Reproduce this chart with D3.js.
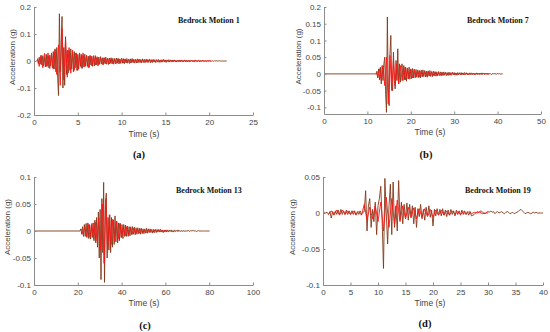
<!DOCTYPE html>
<html>
<head>
<meta charset="utf-8">
<script src="https://cdn.jsdelivr.net/npm/d3@7"></script>
<style>
  body { margin: 0; background: #fff; }
  .tick text { font-family: "Liberation Sans", Arial, sans-serif; font-size: 8px; fill: #444; }
  .domain, .tick line { stroke: #8c8c8c; }
</style>
</head>
<body>
<div id="chart"></div>
<script>
const m1Start = 0.3, m1Dt = 0.1;
const m1Brown = [
  0, 0.006, -0.01, 0.014, -0.012, 0.018, -0.015,
  0.02, -0.018, 0.015, -0.022, 0.025, -0.02, 0.018, -0.025, 0.022, -0.018,
  0.03, -0.025, 0.035, -0.03, 0.045,
  -0.04, 0.05, -0.06, -0.128, 0.175, -0.04, 0.06, 0.165, -0.1, 0.05,
  -0.09, 0.09, -0.05, 0.04, -0.045,
  0.04, -0.035, 0.045, -0.03, 0.03, -0.04, 0.035, -0.025, 0.03, -0.035,
  0.025, -0.03, 0.03, -0.02, 0.025, -0.028, 0.02, -0.022, 0.025, -0.018,
  0.022, -0.02, 0.018, -0.024, 0.02, -0.015, 0.018, -0.02, 0.015, -0.018,
  0.02, -0.015, 0.012, -0.018, 0.015, -0.012, 0.016, -0.01, 0.012, -0.014,
  0.012, -0.01, 0.014, -0.012, 0.01, -0.013, 0.011, -0.009, 0.012, -0.01,
  0.01, -0.012, 0.009, -0.01, 0.011, -0.008, 0.01, -0.011, 0.008, -0.009,
  0.01, -0.008, 0.009, -0.01, 0.008, -0.007, 0.009, -0.008, 0.007, -0.009,
  0.008, -0.007, 0.009, -0.006, 0.007, -0.008, 0.006, -0.007, 0.008, -0.006,
  0.007, -0.006, 0.006, -0.007, 0.008, -0.005, 0.006, -0.006, 0.007, -0.005,
  0.006, -0.005, 0.007, -0.006, 0.005, -0.006, 0.006, -0.004, 0.005, -0.006,
  0.005, -0.004, 0.006, -0.005, 0.004, -0.005, 0.005, -0.004, 0.006, -0.004,
  0.004, -0.005, 0.004, -0.003, 0.005, -0.004, 0.003, -0.004, 0.004, -0.003,
  0.004, -0.003, 0.003, -0.004, 0.003, -0.003, 0.004, -0.003, 0.003, -0.003,
  0.003, -0.003, 0.004, -0.002, 0.003, -0.003, 0.002, -0.003, 0.003, -0.002,
  0.003, -0.002, 0.002, -0.003, 0.003, -0.002, 0.002, -0.002, 0.003, -0.002,
  0.002, -0.002, 0.002, -0.001, 0.002, -0.002, 0.001, -0.002, 0.001, -0.001,
  0.002, -0.001, 0.001, -0.001, 0.001, -0.001, 0.001, 0, 0.001, -0.001,
  0.001, 0, 0.001, 0, 0, 0, 0, 0, 0, 0, 0
];
const m1RedStart = 0.4, m1RedDt = 0.2;
const m1Red = [
  0.01, -0.02, 0.022, -0.025, 0.028, -0.02, 0.03, -0.028, 0.025, -0.03,
  0.04, -0.05, 0.06, -0.09, 0.12, -0.07, 0.08, -0.06, 0.05, -0.045,
  0.04, -0.035, 0.03, -0.035, 0.028, -0.025, 0.03, -0.022, 0.02, -0.025,
  0.02, -0.018, 0.02, -0.015, 0.016, -0.014, 0.012, -0.013, 0.012, -0.01,
  0.01, -0.011, 0.009, -0.01, 0.008, -0.009, 0.008, -0.007, 0.008, -0.007,
  0.007, -0.006, 0.007, -0.006, 0.006, -0.006, 0.005, -0.006, 0.005, -0.005,
  0.005, -0.005, 0.004, -0.005, 0.004, -0.004, 0.004, -0.004, 0.003, -0.004,
  0.003, -0.003, 0.004, -0.003, 0.003, -0.003, 0.003, -0.002, 0.003, -0.002,
  0.002, -0.002, 0.003, -0.002, 0.002, -0.002, 0.002, -0.002, 0.002, -0.001,
  0.002, -0.001, 0.001, -0.001, 0.001, -0.001, 0.001, 0, 0.001, 0
];

// ---- Bedrock Motion 7 ----
const m7Start = 12, m7Dt = 0.2;
const m7Brown = [
  0, 0.008, -0.012, 0.015, -0.018, 0.02, -0.03, 0.025, -0.02, 0.03,
  0.05, -0.06, -0.115, 0.17, -0.04, -0.095, 0.06, 0.115, -0.03, -0.05,
  0.065, -0.02, -0.045, 0.04, -0.02, 0.075, -0.03, 0.03, -0.025, 0.02,
  0.03, -0.02, 0.025, -0.018, 0.02, -0.022, 0.018, -0.015, 0.02, -0.016,
  0.015, -0.014, 0.016, -0.012, 0.014, -0.012, 0.013, -0.01, 0.012, -0.011,
  0.01, -0.012, 0.011, -0.009, 0.012, -0.008, 0.01, -0.009, 0.008, -0.01,
  0.009, -0.007, 0.01, -0.008, 0.007, -0.008, 0.008, -0.006, 0.007, -0.007,
  0.006, -0.006, 0.007, -0.005, 0.006, -0.006, 0.005, -0.005, 0.006, -0.004,
  0.005, -0.005, 0.004, -0.005, 0.005, -0.004, 0.004, -0.004, 0.005, -0.003,
  0.004, -0.004, 0.003, -0.004, 0.004, -0.003, 0.003, -0.003, 0.004, -0.003,
  0.003, -0.003, 0.004, -0.002, 0.003, -0.003, 0.002, -0.003, 0.003, -0.002,
  0.003, -0.002, 0.002, -0.003, 0.002, -0.002, 0.003, -0.002, 0.002, -0.002,
  0.002, -0.002, 0.003, -0.001, 0.002, -0.002, 0.002, -0.001, 0.002, -0.002,
  0.002, -0.001, 0.001, -0.002, 0.001, -0.001, 0.002, -0.001, 0.001, -0.001,
  0.001, 0, 0.001, -0.001, 0, 0, 0
];
const m7RedStart = 12, m7RedDt = 0.4;
const m7Red = [
  0.003, -0.008, 0.015, -0.02, 0.025, -0.035, 0.05, -0.09, 0.055, -0.05,
  0.04, -0.035, 0.03, -0.03, 0.025, -0.02, 0.02, -0.018, 0.016, -0.015,
  0.014, -0.012, 0.012, -0.01, 0.01, -0.009, 0.009, -0.008, 0.008, -0.007,
  0.007, -0.006, 0.006, -0.005, 0.005, -0.005, 0.004, -0.004, 0.004, -0.004,
  0.003, -0.003, 0.003, -0.003, 0.003, -0.002, 0.002, -0.002, 0.002, -0.002,
  0.002, -0.002, 0.002, -0.001, 0.001, -0.001, 0.001, -0.001, 0.001, 0,
  0.001, -0.001, 0.001, 0, 0, 0
];

// ---- Bedrock Motion 13 ----
const m13Start = 21, m13Dt = 0.4;
const m13Brown = [
  0, 0.004, -0.006, 0.008, -0.01, 0.012, -0.01, 0.014, -0.012, 0.015,
  -0.014, 0.012, -0.015, 0.01, -0.012, 0.015, -0.018, 0.02, -0.022, 0.025,
  -0.03, 0.035, -0.05, 0.04, -0.09, 0.06, -0.04, 0.09, -0.095, 0.045,
  0.07, -0.05, 0.025, -0.035, 0.03, -0.04, 0.025, -0.03, 0.02, -0.025,
  0.028, -0.02, 0.018, -0.022, 0.015, -0.018, 0.014, -0.012, 0.012, -0.014,
  0.012, -0.01, 0.011, -0.01, 0.009, -0.01, 0.008, -0.009, 0.008, -0.007,
  0.008, -0.006, 0.007, -0.007, 0.006, -0.006, 0.006, -0.005, 0.005, -0.006,
  0.005, -0.005, 0.004, -0.005, 0.004, -0.004, 0.005, -0.004, 0.004, -0.003,
  0.004, -0.003, 0.003, -0.004, 0.003, -0.003, 0.003, -0.003, 0.003, -0.002,
  0.003, -0.002, 0.003, -0.002, 0.002, -0.003, 0.002, -0.002, 0.002, -0.002,
  0.002, -0.002, 0.002, -0.001, 0.002, -0.002, 0.001, -0.002, 0.002, -0.001,
  0.001, -0.001, 0.002, -0.001, 0.001, -0.001, 0.001, -0.001, 0.001, -0.001,
  0.001, -0.001, 0.001, 0, 0.001, -0.001, 0.001, 0, 0.001, 0,
  0.001, 0, 0, -0.001, 0, 0.001, 0, 0, 0, 0,
  0, 0, 0, 0, 0, 0, 0, 0, 0
];
const m13RedStart = 21.6, m13RedDt = 0.8;
const m13Red = [
  0.003, -0.006, 0.008, -0.01, 0.012, -0.012, 0.014, -0.015, 0.016, -0.018,
  0.025, -0.035, 0.05, -0.06, 0.06, -0.04, 0.03, -0.025, 0.022, -0.02,
  0.018, -0.015, 0.014, -0.012, 0.01, -0.009, 0.008, -0.007, 0.007, -0.006,
  0.005, -0.005, 0.004, -0.004, 0.004, -0.003, 0.003, -0.003, 0.002, -0.002,
  0.002, -0.002, 0.002, -0.001, 0.001, -0.001, 0.001, -0.001, 0.001, 0
];

// ---- Bedrock Motion 19 ----
const m19Start = 0, m19Dt = 0.25;
const m19Brown = [
  0, 0.001, 0, 0.001, -0.002, 0.002, -0.007, 0.002, -0.002, 0.003,
  -0.002, 0.004, -0.002, 0.005, -0.002, 0.003, -0.002, 0.004, -0.002, 0.003,
  -0.002, 0.003, -0.002, 0.003, -0.003, 0.002, -0.002, 0.003, -0.002, 0.001,
  0.002, 0.031, -0.025, 0.01, 0.02, -0.02, 0.005, -0.012, 0.015, -0.03,
  0.01, 0.02, 0.037, -0.01, -0.077, 0.048, 0, -0.043, 0.01, 0.04,
  -0.03, 0.043, -0.02, 0.01, -0.025, 0.045, -0.01, 0.015, -0.015, 0.012,
  -0.008, 0.014, -0.01, 0.012, -0.005, 0.01, -0.015, 0.008, -0.02, 0.006,
  -0.005, 0.012, -0.008, 0.005, -0.01, 0.008, -0.004, 0.01, -0.006, 0.004,
  -0.018, 0.005, -0.004, 0.006, -0.003, 0.005, -0.004, 0.006, -0.003, 0.004,
  -0.005, 0.004, -0.003, 0.005, -0.002, 0.003, -0.004, 0.004, -0.002, 0.003,
  -0.003, 0.004, -0.002, 0.003, -0.002, 0.002, -0.003, 0.002, -0.004, -0.003,
  -0.002, 0, 0.002, 0.001, 0.002, 0.003, 0.001, 0, -0.001, 0.001,
  0.002, 0.001, 0.003, 0.001, 0.002, -0.001, 0.001, 0.002, 0, 0.001,
  0.002, 0, -0.001, 0.001, 0.002, 0.001, -0.001, 0, 0.001, -0.001,
  0, 0.001, 0.002, 0.004, 0.005, 0.003, 0.001, -0.001, 0, 0.001,
  0, -0.001, 0, 0.001, 0, 0.001, 0, 0, 0, 0, 0
];
const m19RedStart = 1, m19RedDt = 0.5;
const m19Red = [
  -0.002, 0.003, -0.003, 0.004, -0.003, 0.004, -0.002, 0.003, -0.002, 0.003,
  -0.002, 0.002, -0.003, 0.012, -0.01, 0.008, -0.008, 0.01, -0.012, 0.015,
  -0.025, 0.022, -0.02, 0.02, -0.016, 0.018, -0.012, 0.01, -0.008, 0.008,
  -0.007, 0.007, -0.008, 0.006, -0.006, 0.006, -0.005, 0.005, -0.006, 0.004,
  -0.003, 0.004, -0.003, 0.003, -0.003, 0.003, -0.002, 0.002, -0.002, 0.002,
  -0.002, 0.002, -0.001, 0.001, 0, 0.001, -0.001, 0, 0
];

// axis ticks
const xTicks1 = [0, 5, 10, 15, 20, 25];
const yTicks1 = [-0.2, -0.1, 0, 0.1, 0.2];
const xTicks7 = [0, 10, 20, 30, 40, 50];
const yTicks7 = [-0.1, -0.05, 0, 0.05, 0.1, 0.15, 0.2];
const xTicks13 = [0, 20, 40, 60, 80, 100];
const yTicks13 = [-0.1, -0.05, 0, 0.05, 0.1];
const xTicks19 = [0, 5, 10, 15, 20, 25, 30, 35, 40];
const yTicks19 = [-0.1, -0.05, 0, 0.05];

const panels = [
  { title: "Bedrock Motion 1", tag: "(a)", xDomain: [0, 25], yDomain: [-0.2, 0.2],
    xTicks: xTicks1, yTicks: yTicks1,
    brown: { start: m1Start, dt: m1Dt, values: m1Brown, lead: false },
    red: { start: m1RedStart, dt: m1RedDt, values: m1Red },
    box: { l: 34, r: 253, t: 7, b: 115 }, titleX: 178, titleY: 23,
    yLabX: 12, xLabX: 144, xLabY: 137, tagX: 139, tagY: 158 },
  { title: "Bedrock Motion 7", tag: "(b)", xDomain: [0, 50], yDomain: [-0.12, 0.2],
    xTicks: xTicks7, yTicks: yTicks7,
    brown: { start: m7Start, dt: m7Dt, values: m7Brown, lead: true },
    red: { start: m7RedStart, dt: m7RedDt, values: m7Red },
    box: { l: 324, r: 541, t: 7, b: 114 }, titleX: 467, titleY: 23,
    yLabX: 298, xLabX: 430, xLabY: 135, tagX: 426, tagY: 158 },
  { title: "Bedrock Motion 13", tag: "(c)", xDomain: [0, 100], yDomain: [-0.1, 0.1],
    xTicks: xTicks13, yTicks: yTicks13,
    brown: { start: m13Start, dt: m13Dt, values: m13Brown, lead: true },
    red: { start: m13RedStart, dt: m13RedDt, values: m13Red },
    box: { l: 34, r: 253, t: 177, b: 285 }, titleX: 176, titleY: 193,
    yLabX: 7, xLabX: 144, xLabY: 306, tagX: 145, tagY: 329 },
  { title: "Bedrock Motion 19", tag: "(d)", xDomain: [0, 40], yDomain: [-0.1, 0.05],
    xTicks: xTicks19, yTicks: yTicks19,
    brown: { start: m19Start, dt: m19Dt, values: m19Brown, lead: false },
    red: { start: m19RedStart, dt: m19RedDt, values: m19Red },
    box: { l: 323, r: 543, t: 177, b: 285 }, titleX: 465, titleY: 193,
    yLabX: 292, xLabX: 430, xLabY: 306, tagX: 425, tagY: 327 }
];

const svg = d3.select("#chart").append("svg")
  .attr("width", 550)
  .attr("height", 332);

const toPoints = (s, lead) => {
  const pts = s.values.map((v, i) => [s.start + i * s.dt, v]);
  return lead ? [[0, 0]].concat(pts) : pts;
};

panels.forEach(p => {
  const x = d3.scaleLinear().domain(p.xDomain).range([p.box.l, p.box.r]);
  const y = d3.scaleLinear().domain(p.yDomain).range([p.box.b, p.box.t]);

  const line = d3.line().x(d => x(d[0])).y(d => y(d[1]));

  svg.append("path")
    .datum(toPoints(p.brown, p.brown.lead))
    .attr("d", line)
    .attr("fill", "none")
    .attr("stroke", "#82391a")
    .attr("stroke-width", 0.9);

  svg.append("path")
    .datum(toPoints(p.red, false))
    .attr("d", line)
    .attr("fill", "none")
    .attr("stroke", "#ff1414")
    .attr("stroke-width", 0.9);

  // axes with inward ticks, like matlab
  svg.append("g")
    .attr("transform", `translate(0,${p.box.b})`)
    .call(d3.axisBottom(x).tickValues(p.xTicks).tickSizeInner(-2.5).tickSizeOuter(0)
      .tickPadding(4).tickFormat(d => String(d)));

  svg.append("g")
    .attr("transform", `translate(${p.box.l},0)`)
    .call(d3.axisLeft(y).tickValues(p.yTicks).tickSizeInner(-2.5).tickSizeOuter(0)
      .tickPadding(3).tickFormat(d => String(d)));

  svg.append("text")
    .attr("x", p.titleX)
    .attr("y", p.titleY)
    .attr("font-family", "'Liberation Serif', 'Times New Roman', serif")
    .attr("font-weight", "bold")
    .attr("font-size", "8px")
    .attr("fill", "#111")
    .text(p.title);

  svg.append("text")
    .attr("transform", `translate(${p.yLabX},${(p.box.t + p.box.b) / 2 - 4}) rotate(-90)`)
    .attr("text-anchor", "middle")
    .attr("dy", "0.35em")
    .attr("font-family", "'Liberation Sans', Arial, sans-serif")
    .attr("font-size", "8px")
    .attr("fill", "#444")
    .text("Acceleration (g)");

  svg.append("text")
    .attr("x", p.xLabX)
    .attr("y", p.xLabY)
    .attr("text-anchor", "middle")
    .attr("font-family", "'Liberation Sans', Arial, sans-serif")
    .attr("font-size", "8.5px")
    .attr("fill", "#444")
    .text("Time (s)");

  svg.append("text")
    .attr("x", p.tagX)
    .attr("y", p.tagY)
    .attr("text-anchor", "middle")
    .attr("font-family", "'Liberation Serif', 'Times New Roman', serif")
    .attr("font-weight", "bold")
    .attr("font-size", "10.5px")
    .attr("fill", "#111")
    .text(p.tag);
});
</script>
</body>
</html>
